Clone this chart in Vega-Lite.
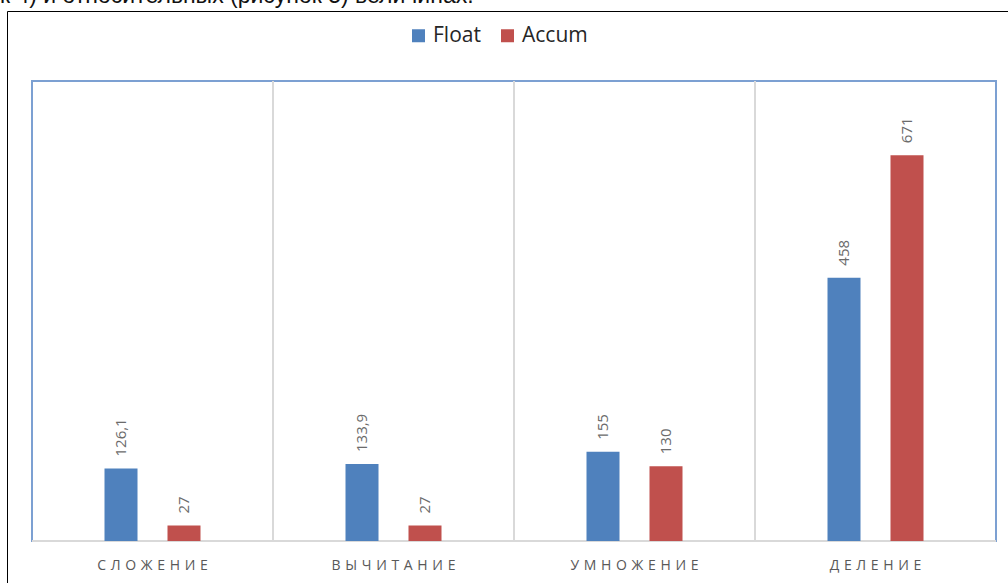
{
  "$schema": "https://vega.github.io/schema/vega-lite/v6.json",
  "width": 1010,
  "height": 580,
  "autosize": {"type": "none"},
  "padding": {"left": 7, "top": 11, "right": 0, "bottom": 0},
  "background": "white",
  "title": {
    "text": "к 4) и относительных (рисунок 5) величинах.",
    "anchor": "start",
    "frame": "group",
    "font": "Liberation Sans",
    "fontSize": 23,
    "fontWeight": "normal",
    "color": "#111111",
    "offset": 0,
    "baseline": "alphabetic",
    "dx": -7,
    "dy": 15
  },
  "config": {
    "locale": {
      "number": {"decimal": ",", "thousands": " ", "grouping": [3], "currency": ["", ""]}
    },
    "view": {"stroke": "#000000", "strokeWidth": 1},
    "legend": {
      "orient": "none",
      "legendX": 401,
      "legendY": 14,
      "direction": "horizontal",
      "padding": 0,
      "symbolType": "square",
      "symbolSize": 169,
      "symbolStrokeWidth": 0,
      "labelFont": "Open Sans",
      "labelFontSize": 21,
      "labelColor": "#262626",
      "labelOffset": 4,
      "columnPadding": 16
    }
  },
  "data": {
    "values": [
      {"op": "СЛОЖЕНИЕ", "series": "Float", "value": 126.1},
      {"op": "СЛОЖЕНИЕ", "series": "Accum", "value": 27},
      {"op": "ВЫЧИТАНИЕ", "series": "Float", "value": 133.9},
      {"op": "ВЫЧИТАНИЕ", "series": "Accum", "value": 27},
      {"op": "УМНОЖЕНИЕ", "series": "Float", "value": 155},
      {"op": "УМНОЖЕНИЕ", "series": "Accum", "value": 130},
      {"op": "ДЕЛЕНИЕ", "series": "Float", "value": 458},
      {"op": "ДЕЛЕНИЕ", "series": "Accum", "value": 671}
    ]
  },
  "encoding": {
    "x": {
      "field": "op",
      "type": "nominal",
      "title": null,
      "scale": {
        "domain": ["СЛОЖЕНИЕ", "ВЫЧИТАНИЕ", "УМНОЖЕНИЕ", "ДЕЛЕНИЕ"],
        "paddingInner": 0,
        "paddingOuter": 0.09544,
        "align": 0.5435
      },
      "axis": {
        "orient": "bottom",
        "offset": -33,
        "domain": false,
        "ticks": false,
        "grid": false,
        "labelPadding": 0,
        "labelAngle": 0,
        "labelFont": "Open Sans",
        "labelFontSize": 14,
        "labelColor": "#595959",
        "labelExpr": "join(split(datum.label, ''), '\u2004')"
      }
    }
  },
  "layer": [
    {
      "transform": [{"filter": "datum.series === 'Float'"}],
      "mark": {"type": "bar", "filled": false, "color": "#7CA0D2", "strokeWidth": 2},
      "encoding": {
        "y": {"datum": 800, "type": "quantitative", "axis": null,
              "scale": {"domain": [-86.96, 921.74], "nice": false, "zero": false}},
        "y2": {"datum": 0}
      }
    },
    {
      "transform": [{"filter": "datum.series === 'Float' && datum.op !== 'СЛОЖЕНИЕ'"}],
      "mark": {"type": "rule", "color": "#D9D9D9", "strokeWidth": 2},
      "encoding": {
        "x": {
          "field": "op",
          "type": "nominal",
          "bandPosition": 0,
          "title": null,
          "scale": {
            "domain": ["СЛОЖЕНИЕ", "ВЫЧИТАНИЕ", "УМНОЖЕНИЕ", "ДЕЛЕНИЕ"],
            "paddingInner": 0,
            "paddingOuter": 0.09544,
            "align": 0.5435
          },
          "axis": {
            "orient": "bottom",
            "offset": -33,
            "domain": false,
            "ticks": false,
            "grid": false,
            "labelPadding": 0,
            "labelAngle": 0,
            "labelFont": "Open Sans",
            "labelFontSize": 14,
            "labelColor": "#595959",
            "labelExpr": "join(split(datum.label, ''), '\u2004')"
          }
        },
        "y": {"datum": 0, "type": "quantitative", "axis": null,
              "scale": {"domain": [-86.96, 921.74], "nice": false, "zero": false}},
        "y2": {"datum": 800}
      }
    },
    {
      "transform": [{"filter": "datum.series === 'Float'"}],
      "mark": {"type": "bar", "filled": false, "color": "#D9D9D9", "strokeWidth": 2},
      "encoding": {
        "y": {"datum": 0, "type": "quantitative", "axis": null,
              "scale": {"domain": [-86.96, 921.74], "nice": false, "zero": false}},
        "y2": {"datum": 0}
      }
    },
    {
      "mark": {"type": "bar"},
      "encoding": {
        "xOffset": {"field": "series", "type": "nominal",
                    "scale": {"domain": ["Float", "Accum"], "range": [72.5, 168.5], "paddingInner": 0.476, "paddingOuter": 0}},
        "y": {"field": "value", "type": "quantitative", "axis": null,
              "scale": {"domain": [-86.96, 921.74], "nice": false, "zero": false}},
        "y2": {"datum": 0},
        "color": {
          "field": "series",
          "type": "nominal",
          "scale": {"domain": ["Float", "Accum"], "range": ["#4F81BD", "#C0504D"]},
          "legend": {"title": null}
        }
      }
    },
    {
      "mark": {"type": "text", "angle": 270, "align": "left", "baseline": "middle", "dx": 12,
               "font": "Open Sans", "fontSize": 15, "color": "#6B6B6B"},
      "encoding": {
        "xOffset": {"field": "series", "type": "nominal",
                    "scale": {"domain": ["Float", "Accum"], "range": [72.5, 168.5], "paddingInner": 0.476, "paddingOuter": 0}},
        "y": {"field": "value", "type": "quantitative", "axis": null,
              "scale": {"domain": [-86.96, 921.74], "nice": false, "zero": false}},
        "text": {"field": "value", "type": "quantitative", "format": "~g"}
      }
    }
  ]
}
